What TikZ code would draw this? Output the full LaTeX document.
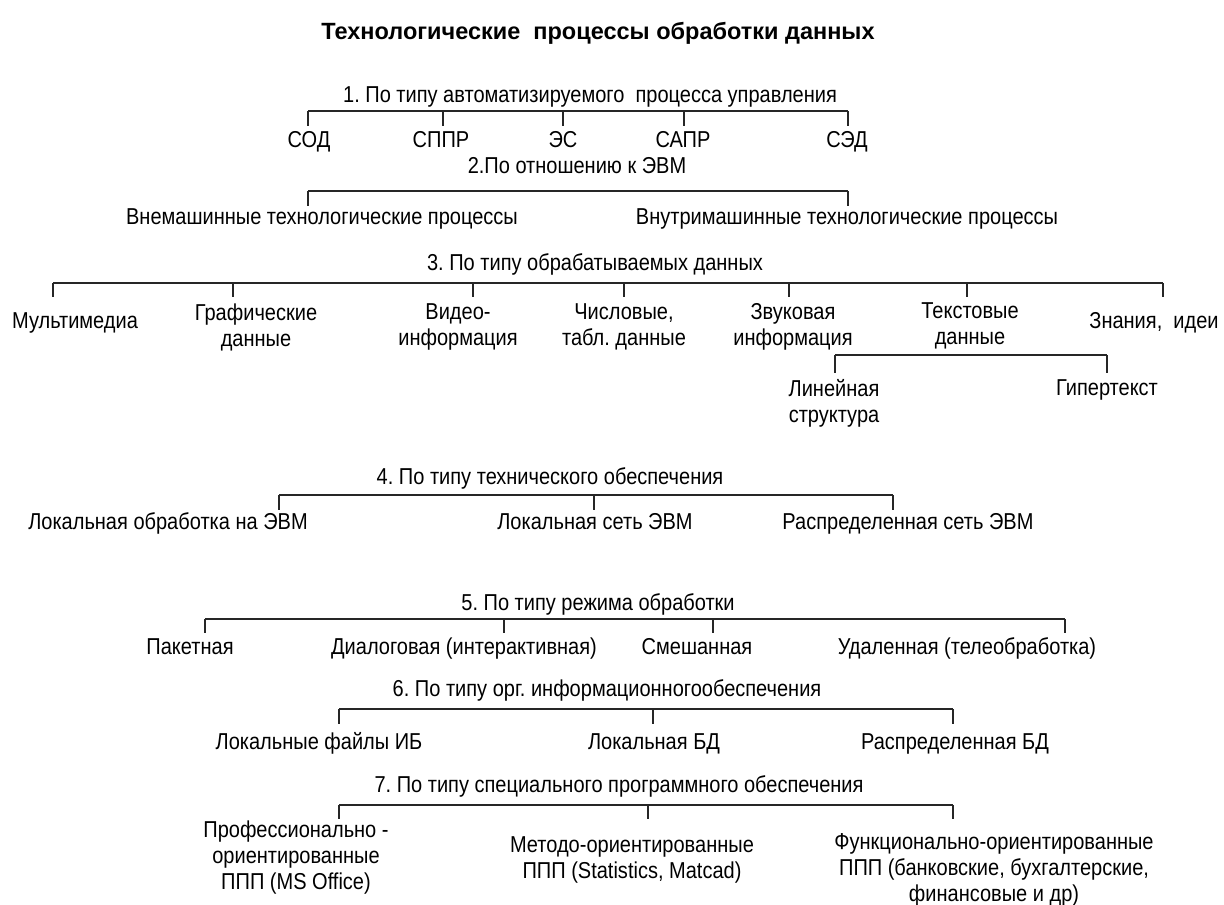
\documentclass[tikz,border=0pt]{standalone}
\usepackage{fontspec}
\setmainfont[FakeStretch=0.87]{Liberation Sans}
\newfontfamily\ttlfont{Liberation Sans}
\usetikzlibrary{positioning}
\frenchspacing

\begin{document}
\begin{tikzpicture}[
    x=1pt, y=-1pt,
    ttl/.style={font=\ttlfont\fontsize{23.5}{28}\selectfont\bfseries, inner sep=0pt},
    cat/.style={font=\fontsize{23}{26}\selectfont, inner sep=0pt, text height=16pt, text depth=5pt},
    lbl/.style={font=\fontsize{23}{26}\selectfont, align=center, inner sep=0pt},
    one/.style={lbl, text height=16pt, text depth=5pt},
    brk/.style={line width=1.2pt, color=black!85}
]
\useasboundingbox (0,0) rectangle (1224,905);

% Title
\node[ttl] (title) at (598,33) {Технологические~ процессы обработки данных};

% 1. Automated control process
\node[cat] (c1) at (590,97) {1. По типу автоматизируемого~ процесса управления};
\coordinate (t1a) at (308,111);
\coordinate (t1b) at (443,111);
\coordinate (t1c) at (563,111);
\coordinate (t1d) at (684,111);
\coordinate (t1e) at (848,111);
\coordinate (b1) at (0,126);
\node[one] (sod) at (309,142) {СОД};
\node[one] (sppr) at (441,142) {СППР};
\node[one] (es) at (563,142) {ЭС};
\node[one] (sapr) at (683,142) {САПР};
\node[one] (sed) at (847,142) {СЭД};
\draw[brk] (t1a) -- (t1e);
\draw[brk] (t1a) -- (t1a |- b1);
\draw[brk] (t1b) -- (t1b |- b1);
\draw[brk] (t1c) -- (t1c |- b1);
\draw[brk] (t1d) -- (t1d |- b1);
\draw[brk] (t1e) -- (t1e |- b1);

% 2. Relation to computer
\node[cat] (c2) at (577,168) {2.По отношению к ЭВМ};
\coordinate (t2a) at (308,191);
\coordinate (t2b) at (848,191);
\coordinate (b2) at (0,206);
\node[one] (vne) at (322,219) {Внемашинные технологические процессы};
\node[one] (vnu) at (847,219) {Внутримашинные технологические процессы};
\draw[brk] (t2a) -- (t2b);
\draw[brk] (t2a) -- (t2a |- b2);
\draw[brk] (t2b) -- (t2b |- b2);

% 3. Data type
\node[cat] (c3) at (595,265) {3. По типу обрабатываемых данных};
\coordinate (t3a) at (53,283);
\coordinate (t3b) at (233,283);
\coordinate (t3c) at (473,283);
\coordinate (t3d) at (624,283);
\coordinate (t3e) at (789,283);
\coordinate (t3f) at (967,283);
\coordinate (t3g) at (1163,283);
\coordinate (b3) at (0,297);
\node[one] (mm) at (75,323) {Мультимедиа};
\node[lbl] (graf) at (256,327) {Графические\\данные};
\node[lbl] (video) at (458,327) {Видео-\\информация};
\node[lbl] (chisl) at (624,327) {Числовые,\\табл. данные};
\node[lbl] (zvuk) at (793,327) {Звуковая\\информация};
\node[lbl] (tekst) at (970,326) {Текстовые\\данные};
\node[one] (znan) at (1154,323) {Знания,~ идеи};
\draw[brk] (t3a) -- (t3g);
\draw[brk] (t3a) -- (t3a |- b3);
\draw[brk] (t3b) -- (t3b |- b3);
\draw[brk] (t3c) -- (t3c |- b3);
\draw[brk] (t3d) -- (t3d |- b3);
\draw[brk] (t3e) -- (t3e |- b3);
\draw[brk] (t3f) -- (t3f |- b3);
\draw[brk] (t3g) -- (t3g |- b3);

% text data subtypes
\coordinate (t3h) at (835,355);
\coordinate (t3i) at (1107,355);
\coordinate (b3s) at (0,373);
\node[lbl] (lin) at (834,403) {Линейная\\структура};
\node[one] (giper) at (1107,390) {Гипертекст};
\draw[brk] (t3h) -- (t3i);
\draw[brk] (t3h) -- (t3h |- b3s);
\draw[brk] (t3i) -- (t3i |- b3s);

% 4. Hardware
\node[cat] (c4) at (550,479) {4. По типу технического обеспечения};
\coordinate (t4a) at (279,495);
\coordinate (t4b) at (594,495);
\coordinate (t4c) at (893,495);
\coordinate (b4) at (0,510);
\node[one] (lob) at (168,524) {Локальная обработка на ЭВМ};
\node[one] (lset) at (595,524) {Локальная сеть ЭВМ};
\node[one] (rset) at (908,524) {Распределенная сеть ЭВМ};
\draw[brk] (t4a) -- (t4c);
\draw[brk] (t4a) -- (t4a |- b4);
\draw[brk] (t4b) -- (t4b |- b4);
\draw[brk] (t4c) -- (t4c |- b4);

% 5. Processing mode
\node[cat] (c5) at (598,605) {5. По типу режима обработки};
\coordinate (t5a) at (205,619);
\coordinate (t5b) at (504,619);
\coordinate (t5c) at (713,619);
\coordinate (t5d) at (1065,619);
\coordinate (b5) at (0,633);
\node[one] (pak) at (190,649) {Пакетная};
\node[one] (dial) at (464,649) {Диалоговая (интерактивная)};
\node[one] (smesh) at (697,649) {Смешанная};
\node[one] (udal) at (967,649) {Удаленная (телеобработка)};
\draw[brk] (t5a) -- (t5d);
\draw[brk] (t5a) -- (t5a |- b5);
\draw[brk] (t5b) -- (t5b |- b5);
\draw[brk] (t5c) -- (t5c |- b5);
\draw[brk] (t5d) -- (t5d |- b5);

% 6. Information support
\node[cat] (c6) at (607,691) {6. По типу орг. информационногообеспечения};
\coordinate (t6a) at (339,709);
\coordinate (t6b) at (653,709);
\coordinate (t6c) at (953,709);
\coordinate (b6) at (0,724);
\node[one] (lf) at (319,744) {Локальные файлы ИБ};
\node[one] (lbd) at (654,744) {Локальная БД};
\node[one] (rbd) at (955,744) {Распределенная БД};
\draw[brk] (t6a) -- (t6c);
\draw[brk] (t6a) -- (t6a |- b6);
\draw[brk] (t6b) -- (t6b |- b6);
\draw[brk] (t6c) -- (t6c |- b6);

% 7. Special software
\node[cat] (c7) at (619,787) {7. По типу специального программного обеспечения};
\coordinate (t7a) at (339,805);
\coordinate (t7b) at (648,805);
\coordinate (t7c) at (953,805);
\coordinate (b7) at (0,819);
\node[lbl] (prof) at (296,858) {Профессионально -\\ориентированные\\ППП (MS Office)};
\node[lbl] (metod) at (632,860) {Методо-ориентированные\\ППП (Statistics, Matcad)};
\node[lbl] (func) at (994,870) {Функционально-ориентированные\\ППП (банковские, бухгалтерские,\\финансовые и др)};
\draw[brk] (t7a) -- (t7c);
\draw[brk] (t7a) -- (t7a |- b7);
\draw[brk] (t7b) -- (t7b |- b7);
\draw[brk] (t7c) -- (t7c |- b7);

\end{tikzpicture}
\end{document}
